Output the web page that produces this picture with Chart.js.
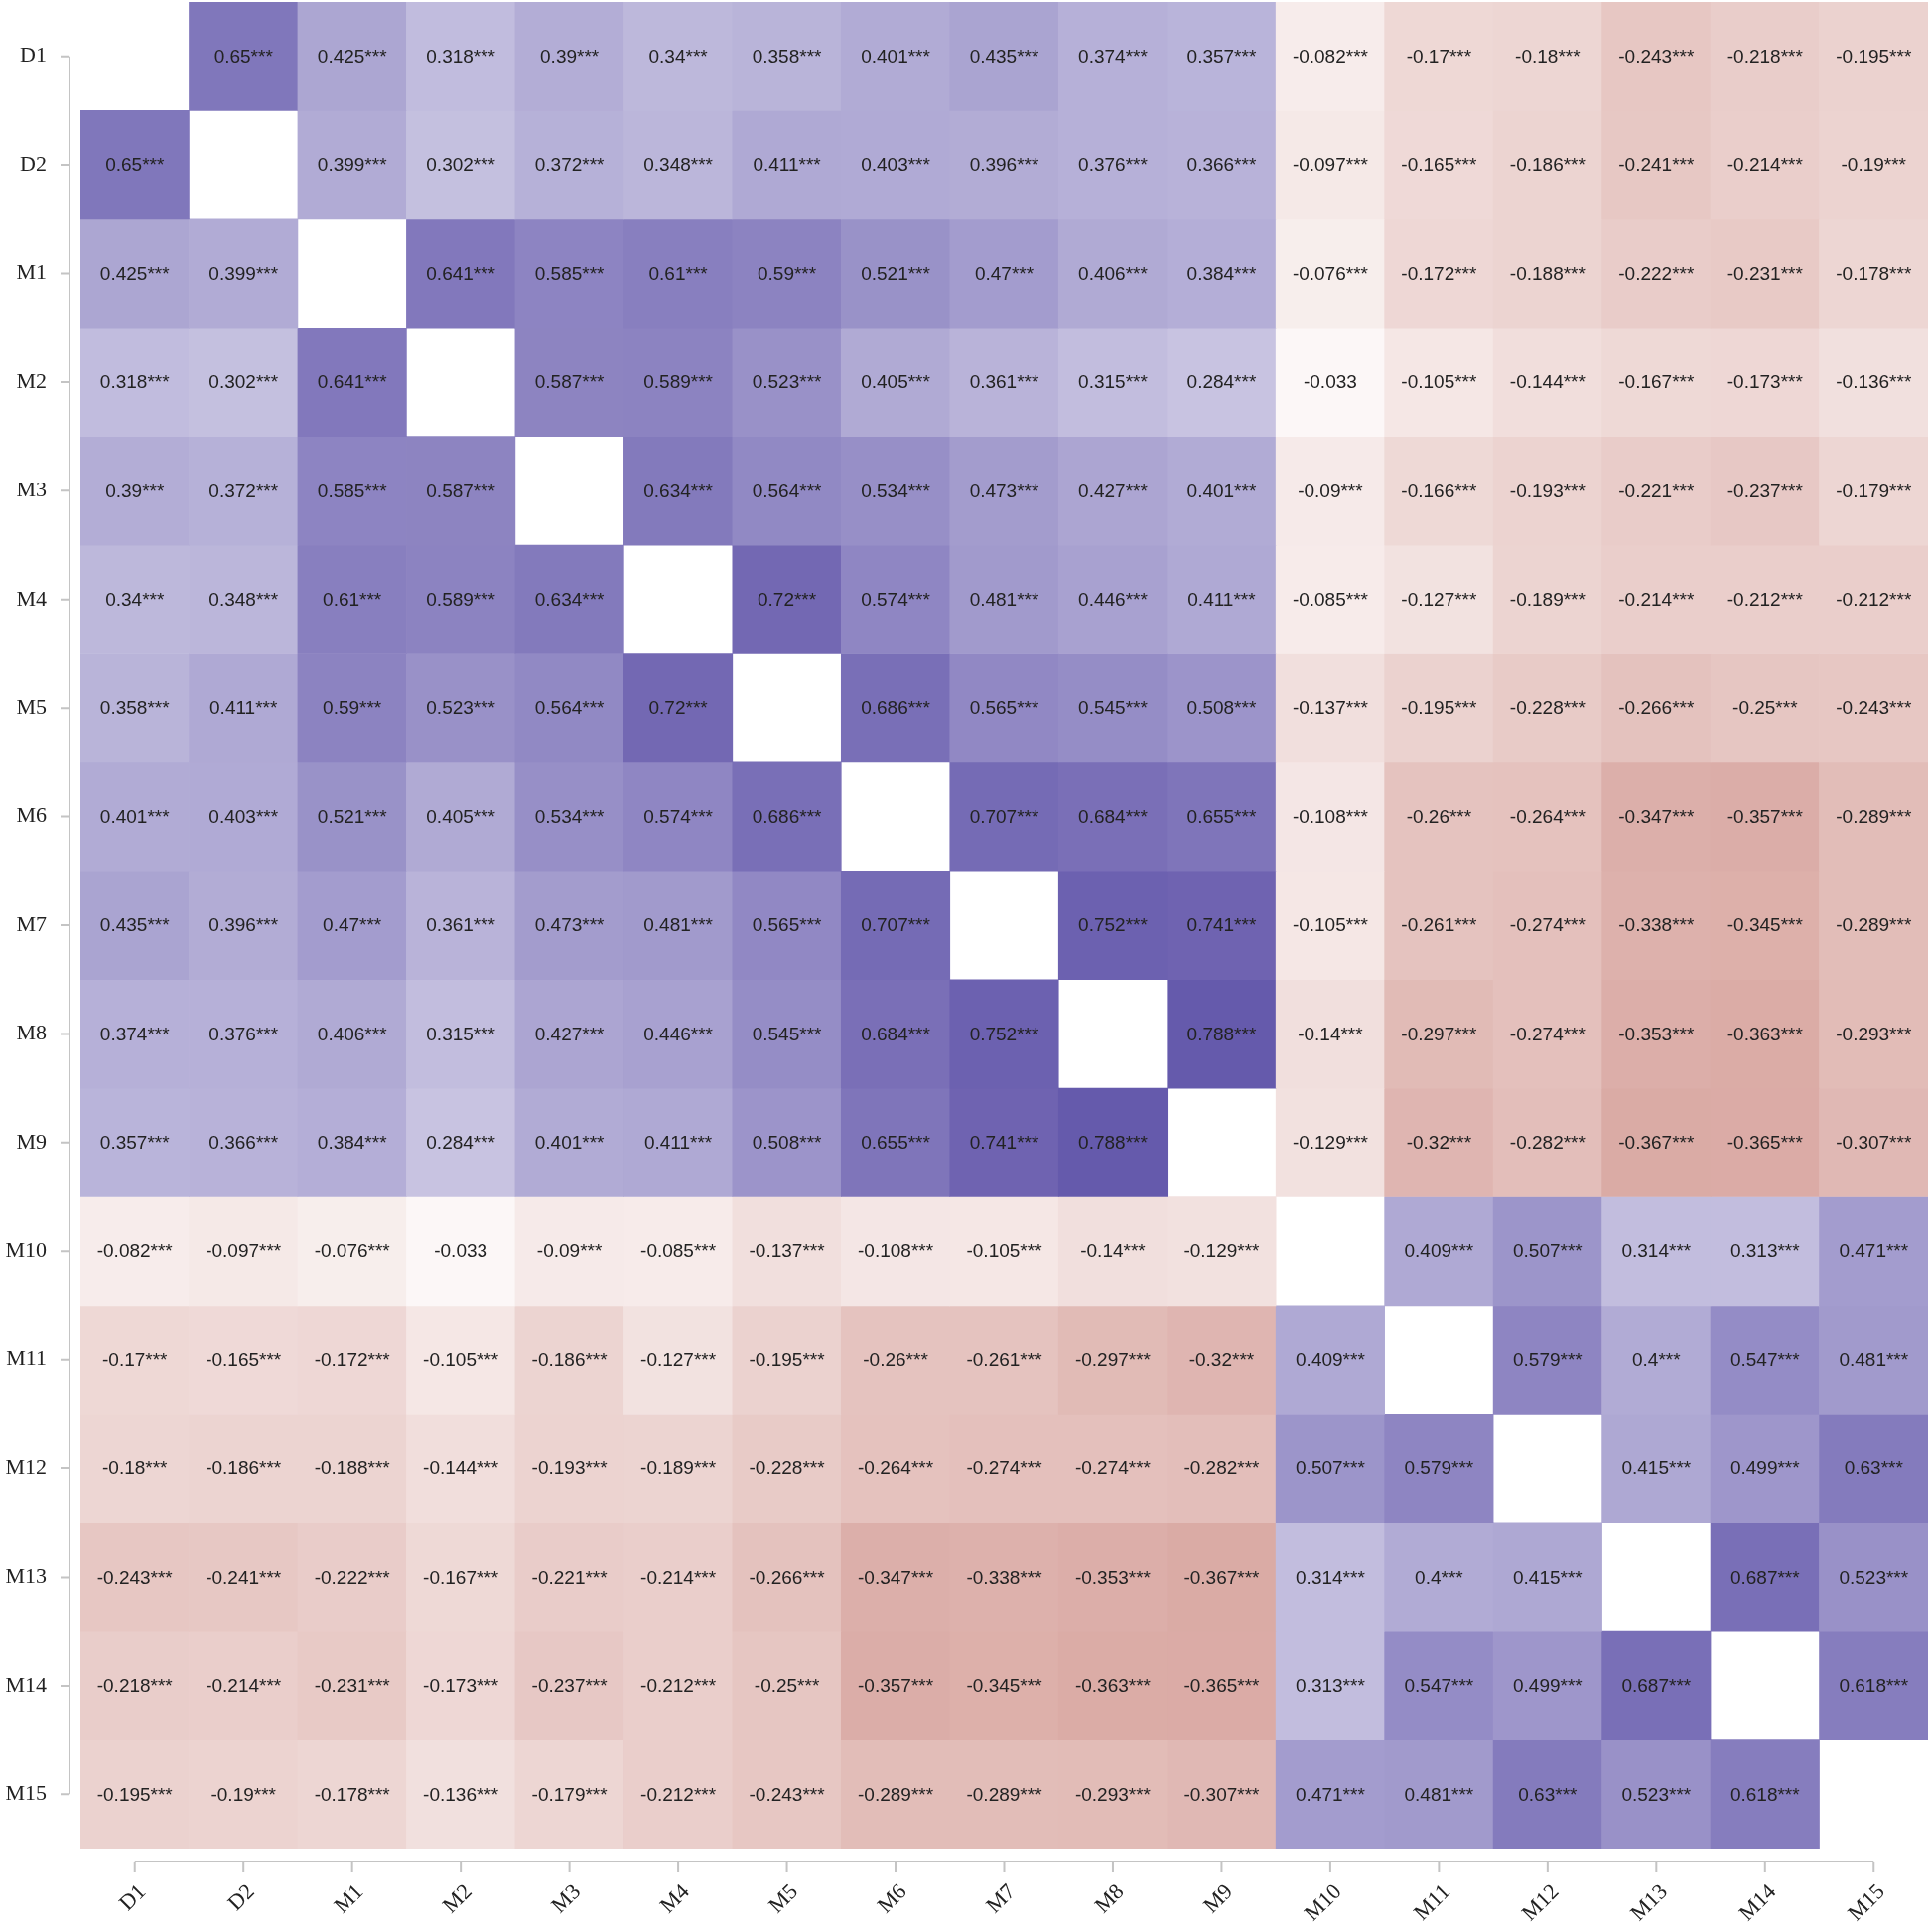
<!DOCTYPE html>
<html>
<head>
<meta charset="utf-8">
<script src="https://cdn.jsdelivr.net/npm/chart.js@4.4.1/dist/chart.umd.min.js"></script>
<style>
html,body{margin:0;padding:0;background:#fff;}
canvas{display:block;}
</style>
</head>
<body>
<canvas id="c" width="1946" height="1945"></canvas>
<script>
const variables = ['D1','D2','M1','M2','M3','M4','M5','M6','M7','M8','M9','M10','M11','M12','M13','M14','M15'];

const rowD1  = [null, 0.65, 0.425, 0.318, 0.39, 0.34, 0.358, 0.401, 0.435, 0.374, 0.357, -0.082, -0.17, -0.18, -0.243, -0.218, -0.195];
const rowD2  = [0.65, null, 0.399, 0.302, 0.372, 0.348, 0.411, 0.403, 0.396, 0.376, 0.366, -0.097, -0.165, -0.186, -0.241, -0.214, -0.19];
const rowM1  = [0.425, 0.399, null, 0.641, 0.585, 0.61, 0.59, 0.521, 0.47, 0.406, 0.384, -0.076, -0.172, -0.188, -0.222, -0.231, -0.178];
const rowM2  = [0.318, 0.302, 0.641, null, 0.587, 0.589, 0.523, 0.405, 0.361, 0.315, 0.284, -0.033, -0.105, -0.144, -0.167, -0.173, -0.136];
const rowM3  = [0.39, 0.372, 0.585, 0.587, null, 0.634, 0.564, 0.534, 0.473, 0.427, 0.401, -0.09, -0.166, -0.193, -0.221, -0.237, -0.179];
const rowM4  = [0.34, 0.348, 0.61, 0.589, 0.634, null, 0.72, 0.574, 0.481, 0.446, 0.411, -0.085, -0.127, -0.189, -0.214, -0.212, -0.212];
const rowM5  = [0.358, 0.411, 0.59, 0.523, 0.564, 0.72, null, 0.686, 0.565, 0.545, 0.508, -0.137, -0.195, -0.228, -0.266, -0.25, -0.243];
const rowM6  = [0.401, 0.403, 0.521, 0.405, 0.534, 0.574, 0.686, null, 0.707, 0.684, 0.655, -0.108, -0.26, -0.264, -0.347, -0.357, -0.289];
const rowM7  = [0.435, 0.396, 0.47, 0.361, 0.473, 0.481, 0.565, 0.707, null, 0.752, 0.741, -0.105, -0.261, -0.274, -0.338, -0.345, -0.289];
const rowM8  = [0.374, 0.376, 0.406, 0.315, 0.427, 0.446, 0.545, 0.684, 0.752, null, 0.788, -0.14, -0.297, -0.274, -0.353, -0.363, -0.293];
const rowM9  = [0.357, 0.366, 0.384, 0.284, 0.401, 0.411, 0.508, 0.655, 0.741, 0.788, null, -0.129, -0.32, -0.282, -0.367, -0.365, -0.307];
const rowM10 = [-0.082, -0.097, -0.076, -0.033, -0.09, -0.085, -0.137, -0.108, -0.105, -0.14, -0.129, null, 0.409, 0.507, 0.314, 0.313, 0.471];
const rowM11 = [-0.17, -0.165, -0.172, -0.105, -0.186, -0.127, -0.195, -0.26, -0.261, -0.297, -0.32, 0.409, null, 0.579, 0.4, 0.547, 0.481];
const rowM12 = [-0.18, -0.186, -0.188, -0.144, -0.193, -0.189, -0.228, -0.264, -0.274, -0.274, -0.282, 0.507, 0.579, null, 0.415, 0.499, 0.63];
const rowM13 = [-0.243, -0.241, -0.222, -0.167, -0.221, -0.214, -0.266, -0.347, -0.338, -0.353, -0.367, 0.314, 0.4, 0.415, null, 0.687, 0.523];
const rowM14 = [-0.218, -0.214, -0.231, -0.173, -0.237, -0.212, -0.25, -0.357, -0.345, -0.363, -0.365, 0.313, 0.547, 0.499, 0.687, null, 0.618];
const rowM15 = [-0.195, -0.19, -0.178, -0.136, -0.179, -0.212, -0.243, -0.289, -0.289, -0.293, -0.307, 0.471, 0.481, 0.63, 0.523, 0.618, null];

// pairs that carry no significance stars
const notSignificant = [['M2','M10'], ['M10','M2']];

const matrixRows = [rowD1,rowD2,rowM1,rowM2,rowM3,rowM4,rowM5,rowM6,rowM7,rowM8,rowM9,rowM10,rowM11,rowM12,rowM13,rowM14,rowM15];

const POS = [60, 45, 150];
const NEG = [155, 25, 10];
function cellColor(v) {
  if (v === null) return 'rgba(0,0,0,0)';
  const t = Math.min(1, Math.abs(v));
  const base = v >= 0 ? POS : NEG;
  const c = base.map(ch => Math.round(255 * (1 - t) + ch * t));
  return `rgb(${c[0]},${c[1]},${c[2]})`;
}
function cellLabel(r, c) {
  const v = matrixRows[r][c];
  if (v === null) return '';
  const ns = notSignificant.some(p => p[0] === variables[r] && p[1] === variables[c]);
  return String(v) + (ns ? '' : '***');
}

const datasets = matrixRows.map((row, r) => ({
  label: variables[r],
  data: row.map(v => v === null ? null : [r, r + 1]),
  backgroundColor: row.map(cellColor),
  borderWidth: 0,
  barPercentage: 1,
  categoryPercentage: 1,
  grouped: false
}));

const AXIS_COLOR = '#c4c4c4';
const axesPlugin = {
  id: 'offsetAxes',
  afterDraw(chart) {
    const ctx = chart.ctx;
    const ca = chart.chartArea;
    const xs = chart.scales.x, ys = chart.scales.y;
    ctx.save();
    ctx.strokeStyle = AXIS_COLOR;
    ctx.lineWidth = 2;
    const ax = ca.left - 11;
    const yTop = ys.getPixelForValue(0.5), yBot = ys.getPixelForValue(variables.length - 0.5);
    ctx.beginPath();
    ctx.moveTo(ax, yTop); ctx.lineTo(ax, yBot);
    variables.forEach((_, i) => {
      const yy = ys.getPixelForValue(i + 0.5);
      ctx.moveTo(ax - 9, yy); ctx.lineTo(ax, yy);
    });
    ctx.stroke();
    const ay = ca.bottom + 13;
    const xL = xs.getPixelForValue(0), xR = xs.getPixelForValue(variables.length - 1);
    ctx.beginPath();
    ctx.moveTo(xL, ay); ctx.lineTo(xR, ay);
    variables.forEach((_, i) => {
      const xx = xs.getPixelForValue(i);
      ctx.moveTo(xx, ay); ctx.lineTo(xx, ay + 11);
    });
    ctx.stroke();
    ctx.restore();
  },
  afterDatasetsDraw(chart) {
    const ctx = chart.ctx;
    ctx.save();
    ctx.font = '19px "Liberation Sans", Arial, sans-serif';
    ctx.fillStyle = '#222222';
    ctx.textAlign = 'center';
    ctx.textBaseline = 'middle';
    chart.data.datasets.forEach((ds, r) => {
      const meta = chart.getDatasetMeta(r);
      meta.data.forEach((el, c) => {
        const txt = cellLabel(r, c);
        if (!txt) return;
        const p = el.getProps(['x', 'y', 'base'], true);
        ctx.fillText(txt, p.x, (p.y + p.base) / 2 + 1);
      });
    });
    ctx.restore();
  }
};

function zeroPad(s) { s.paddingTop = 0; s.paddingBottom = 0; s.paddingLeft = 0; s.paddingRight = 0; }

new Chart(document.getElementById('c'), {
  type: 'bar',
  data: { labels: variables, datasets },
  options: {
    responsive: false,
    devicePixelRatio: 1,
    animation: false,
    layout: { padding: { left: 0, right: 4, top: 2, bottom: 0 } },
    plugins: { legend: { display: false }, tooltip: { enabled: false } },
    scales: {
      x: {
        type: 'category',
        offset: true,
        grid: { display: false, drawTicks: false },
        border: { display: false },
        ticks: {
          autoSkip: false,
          minRotation: 45,
          maxRotation: 45,
          padding: 31,
          labelOffset: 8,
          color: '#222222',
          font: { family: '"Liberation Serif", "Times New Roman", serif', size: 22 }
        },
        afterFit(s) { s.height = 83; zeroPad(s); }
      },
      y: {
        type: 'linear',
        min: 0,
        max: variables.length,
        reverse: true,
        grid: { display: false, drawTicks: false },
        border: { display: false },
        afterBuildTicks(s) { s.ticks = variables.map((_, i) => ({ value: i + 0.5 })); },
        ticks: {
          autoSkip: false,
          padding: 34,
          color: '#222222',
          font: { family: '"Liberation Serif", "Times New Roman", serif', size: 22 },
          callback: (v, i) => variables[i]
        },
        afterFit(s) { s.width = 81; zeroPad(s); }
      }
    }
  },
  plugins: [axesPlugin]
});
</script>
</body>
</html>
